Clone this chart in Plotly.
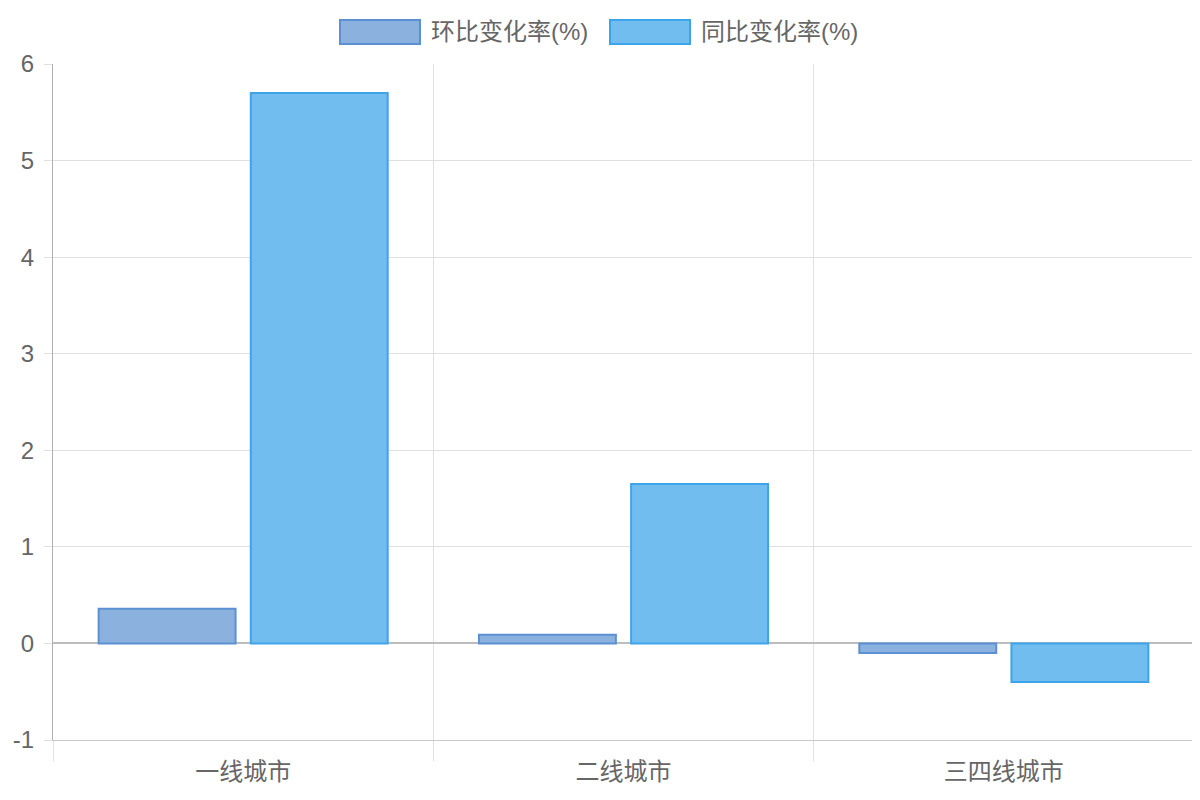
import plotly.graph_objects as go

categories = ["一线城市", "二线城市", "三四线城市"]
mom_name = "环比变化率(%)"
yoy_name = "同比变化率(%)"
mom_values = [0.36, 0.09, -0.1]
yoy_values = [5.7, 1.65, -0.4]
y_ticks = [-1, 0, 1, 2, 3, 4, 5, 6]
y_tick_text = ["-1", "0", "1", "2", "3", "4", "5", "6"]

font_family = "Liberation Sans, Arial, Noto Sans CJK SC, sans-serif"
# page has an 8px body margin, so the figure is sized/offset to compensate
OFF = 8
W, H = 1200 - OFF, 800 - OFF
ML, MR, MT, MB = 53 - OFF, 6, 64 - OFF, 60
PW, PH = W - ML - MR, H - MT - MB

mom_fill, mom_line = "#8bb1df", "#5b90d2"
yoy_fill, yoy_line = "#72bdef", "#3ea4ea"

fig = go.Figure()
fig.add_trace(go.Bar(
    x=categories, y=mom_values, name=mom_name, showlegend=False,
    marker=dict(color=mom_fill, line=dict(color=mom_line, width=2)),
))
fig.add_trace(go.Bar(
    x=categories, y=yoy_values, name=yoy_name, showlegend=False,
    marker=dict(color=yoy_fill, line=dict(color=yoy_line, width=2)),
))

def px_x(px):
    return (px - OFF - ML) / PW

def px_y(py):
    return (H - MB - (py - OFF)) / PH

# manual legend (boxes + labels), positions in screen pixels
legend_items = [(mom_name, mom_fill, mom_line, 340), (yoy_name, yoy_fill, yoy_line, 610)]
for name, fill, line, x0 in legend_items:
    fig.add_shape(type="rect", xref="paper", yref="paper",
                  x0=px_x(x0), x1=px_x(x0 + 80), y0=px_y(44), y1=px_y(20),
                  fillcolor=fill, line=dict(color=line, width=2))
    fig.add_annotation(xref="paper", yref="paper", x=px_x(x0 + 89), y=px_y(32),
                       text=name, showarrow=False, xanchor="left", yanchor="middle",
                       font=dict(size=24, color="#666666"))

fig.update_layout(
    width=W, height=H,
    margin=dict(l=ML, r=MR, t=MT, b=MB, autoexpand=False),
    paper_bgcolor="white", plot_bgcolor="white",
    barmode="group", bargap=0.2, bargroupgap=0.1,
    font=dict(family=font_family, size=24, color="#666666"),
    showlegend=False,
    xaxis=dict(
        type="category", tickson="boundaries", showgrid=True, gridcolor="#e0e0e0",
        gridwidth=1, ticks="outside", ticklen=20, tickcolor="#e0e0e0",
        showline=True, linecolor="#c8c8c8", linewidth=1,
        tickfont=dict(size=24, color="#666666"), zeroline=False, automargin=False,
        ticklabelstandoff=10,
    ),
    yaxis=dict(
        range=[-1, 6], tickvals=y_ticks, ticktext=y_tick_text,
        showgrid=True, gridcolor="#e0e0e0",
        ticks="outside", ticklen=8, tickcolor="#e0e0e0",
        showline=True, linecolor="#b0b0b0", linewidth=1,
        zeroline=True, zerolinecolor="#bdbdbd", zerolinewidth=2,
        tickfont=dict(size=24, color="#666666"), automargin=False,
        ticklabelstandoff=5,
    ),
)

fig.write_html("out.html")
